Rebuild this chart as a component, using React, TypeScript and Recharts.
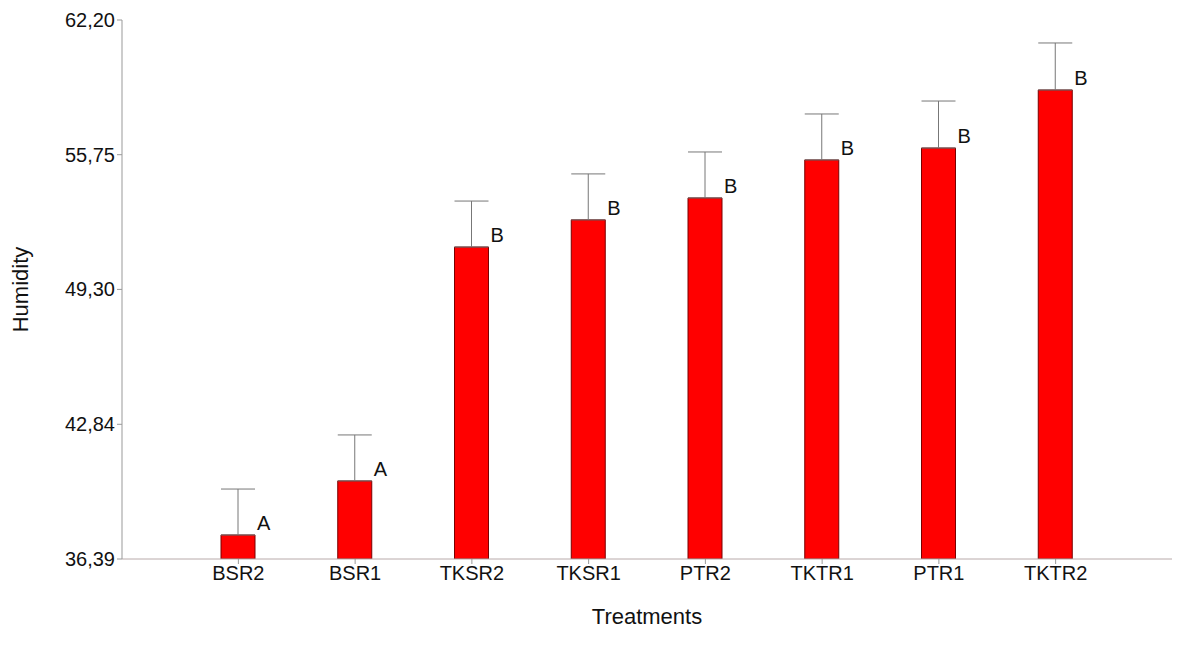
import React from "react";
import { BarChart, Bar, XAxis, YAxis, ErrorBar, LabelList, Label } from "recharts";

const categories = ["BSR2", "BSR1", "TKSR2", "TKSR1", "PTR2", "TKTR1", "PTR1", "TKTR2"];
const means = [37.54, 40.13, 51.33, 52.63, 53.68, 55.5, 56.07, 58.85];
const errors = [2.2, 2.2, 2.2, 2.2, 2.2, 2.2, 2.25, 2.25];
const letters = ["A", "A", "B", "B", "B", "B", "B", "B"];
const yTicks = [36.39, 42.84, 49.3, 55.75, 62.2];

const data = categories.map((c, i) => ({
  name: c,
  value: means[i],
  err: [0, errors[i]],
  letter: letters[i],
}));

const font = "Arial, 'Liberation Sans', sans-serif";

const LetterLabel = (props: any) => {
  const { x, y, width, value } = props;
  return (
    <text x={x + width + 2} y={y - 5} fontSize={20} fontFamily={font} fill="#111" textAnchor="start">
      {value}
    </text>
  );
};

export default function App() {
  return (
    <BarChart
      width={1178}
      height={630}
      data={data}
      margin={{ top: 12, right: 14, bottom: 19, left: 14 }}
    >
      <XAxis
        dataKey="name"
        padding={{ left: 58, right: 58 }}
        stroke="#b8aaaa"
        tickLine={{ stroke: "#999" }}
        tickSize={5}
        height={60}
        tick={{ fill: "#111", fontSize: 20, fontFamily: font }}
      >
        <Label value="Treatments" position="insideBottom" offset={-5} fill="#111" fontSize={22} fontFamily={font} />
      </XAxis>
      <YAxis
        type="number"
        domain={[36.39, 62.2]}
        ticks={yTicks}
        allowDataOverflow
        width={100}
        stroke="#999"
        tickSize={5}
        tickFormatter={(v: number) => v.toFixed(2).replace(".", ",")}
        tick={{ fill: "#111", fontSize: 20, fontFamily: font }}
      >
        <Label value="Humidity" angle={-90} position="insideLeft" offset={0} dx={-2} fill="#111" fontSize={22} fontFamily={font} style={{ textAnchor: "middle" }} />
      </YAxis>
      <Bar dataKey="value" fill="#ff0000" stroke="#7a0000" strokeWidth={1} barSize={34} isAnimationActive={false}>
        <ErrorBar dataKey="err" width={17} stroke="#777" strokeWidth={1} direction="y" />
        <LabelList dataKey="letter" content={LetterLabel} />
      </Bar>
    </BarChart>
  );
}
